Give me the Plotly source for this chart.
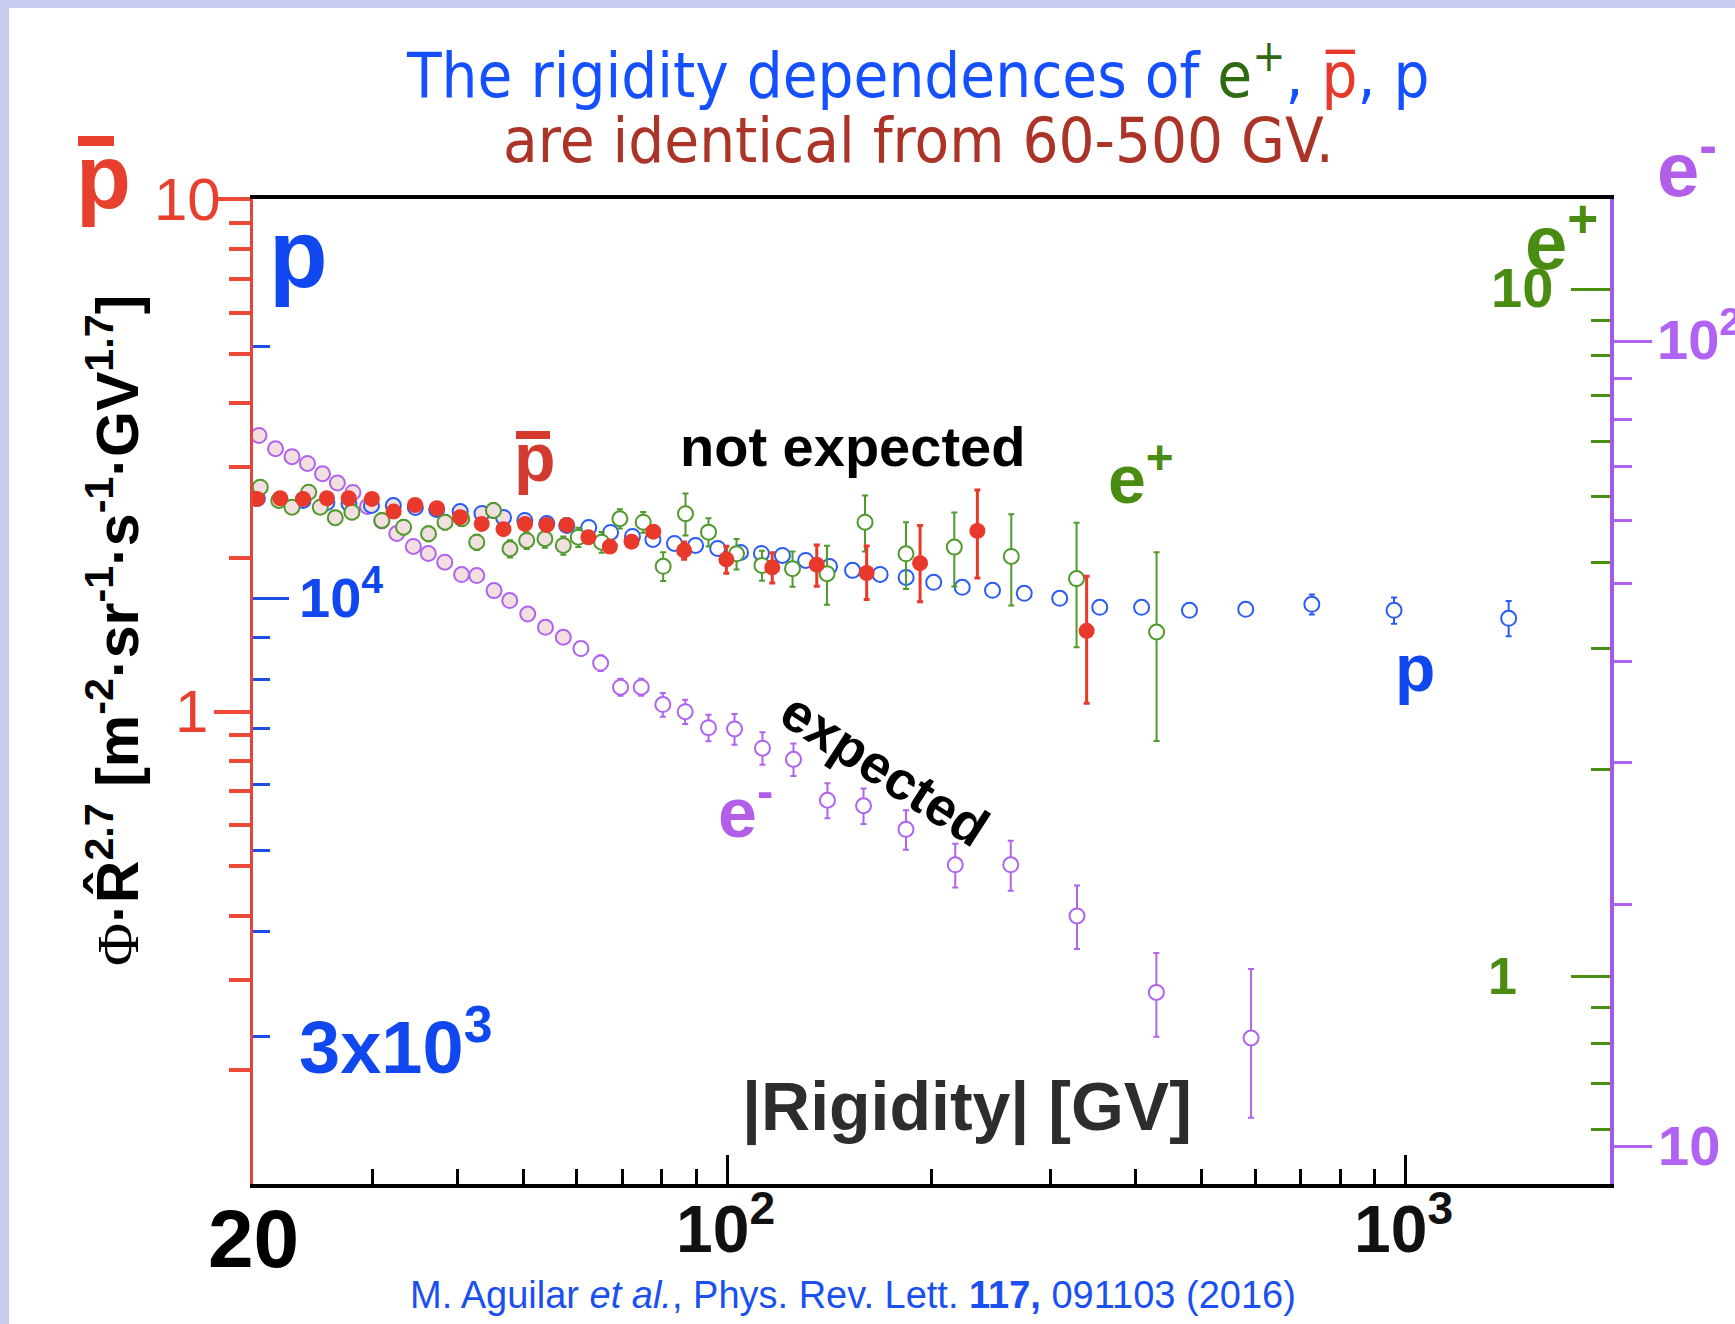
import numpy as np
import plotly.graph_objects as go

# ---------------- data ----------------
# anti-proton (red, filled) : |R| [GV], Phi*R^2.7, errors
pbar_R = [20.27, 21.94, 23.70, 25.70, 27.67, 29.94, 32.23, 34.67, 37.33, 40.38, 43.46, 46.80, 50.34, 54.18,
          57.98, 62.42, 67.14, 72.27, 77.80, 86.39, 99.7, 116.5, 135.5, 160.5, 192.4, 233.7, 338.6]
pbar_F = [2.603, 2.611, 2.603, 2.611, 2.611, 2.603, 2.459, 2.533, 2.496, 2.398, 2.326, 2.272, 2.326, 2.316,
          2.316, 2.191, 2.101, 2.148, 2.247, 2.065, 1.983, 1.913, 1.937, 1.866, 1.950, 2.254, 1.439]
pbar_Eup = [0.03, 0.03, 0.03, 0.03, 0.03, 0.03, 0.03, 0.03, 0.03, 0.03, 0.03, 0.03, 0.03, 0.03,
            0.03, 0.05, 0.05, 0.05, 0.05, 0.08, 0.12, 0.13, 0.18, 0.24, 0.36, 0.455, 0.40]
pbar_Edn = [0.03, 0.03, 0.03, 0.03, 0.03, 0.03, 0.03, 0.03, 0.03, 0.03, 0.03, 0.03, 0.03, 0.03,
            0.03, 0.05, 0.05, 0.05, 0.05, 0.08, 0.12, 0.13, 0.18, 0.21, 0.31, 0.43, 0.40]

# proton (blue, open)
p_R = [20.3, 21.9, 23.7, 25.7, 27.7, 29.9, 32.2, 34.7, 37.3, 40.4, 43.5, 46.8, 50.3, 54.2, 58.0, 62.5,
       67.3, 72.5, 77.7, 83.6, 89.8, 96.8, 104.6, 112.3, 120.6, 130.5, 141.5, 153, 168, 183.5, 201.5,
       222, 246, 274, 309, 354, 408, 480, 581, 727, 961, 1418]
p_F = [13177, 13141, 13105, 13032, 12997, 12926, 12926, 12856, 12785, 12715, 12646, 12507, 12405, 12303,
       12236, 12168, 12002, 11871, 11773, 11644, 11580, 11485, 11360, 11329, 11267, 11112, 10931, 10812,
       10693, 10605, 10461, 10318, 10233, 10149, 10011, 9765, 9765, 9687, 9713, 9847, 9687, 9476]
p_E = [30, 30, 30, 30, 30, 30, 30, 30, 30, 30, 30, 30, 30, 30, 30, 30, 30, 30, 30, 30, 30, 30, 30, 30,
       30, 30, 30, 30, 30, 30, 30, 40, 40, 40, 50, 60, 80, 110, 165, 270, 350, 460]

# positron (green, open)
ep_R = [20.50, 21.83, 22.83, 24.16, 25.13, 26.44, 27.98, 30.97, 33.34, 36.28, 38.38, 40.62, 42.74, 45.23,
        47.84, 50.63, 53.86, 57.33, 60.32, 65.29, 69.46, 75.19, 80.46, 86.79, 93.83, 103.2, 112.5, 124.8,
        140.3, 159.6, 183.4, 216.1, 262.2, 327.2, 429.3]
ep_F = [5.151, 4.926, 4.817, 5.065, 4.817, 4.650, 4.738, 4.608, 4.505, 4.407, 4.581, 4.634, 4.284, 4.764,
        4.191, 4.309, 4.334, 4.238, 4.357, 4.284, 4.634, 4.581, 3.951, 4.713, 4.431, 4.121, 3.964, 3.921,
        3.855, 4.581, 4.121, 4.214, 4.085, 3.792, 3.171]
ep_E = [0.11, 0.11, 0.11, 0.11, 0.11, 0.11, 0.11, 0.11, 0.11, 0.11, 0.11, 0.11, 0.11, 0.12,
        0.12, 0.12, 0.13, 0.13, 0.14, 0.15, 0.15, 0.16, 0.19, 0.33, 0.21, 0.21, 0.20, 0.23,
        0.38, 0.43, 0.46, 0.52, 0.62, 0.78, 0.97]

# electron (purple, open)
em_R = [20.41, 21.59, 22.83, 24.06, 25.32, 26.63, 28.07, 29.49, 30.97, 32.58, 34.46, 36.26, 38.34, 40.59,
        42.74, 45.32, 47.80, 50.81, 53.96, 57.32, 60.86, 65.07, 69.62, 74.68, 80.36, 86.70, 93.83, 102.5,
        112.7, 125.2, 140.5, 158.8, 183.4, 216.8, 261.7, 327.7, 429.0, 591.6]
em_F = [76.42, 73.57, 71.92, 70.55, 68.49, 66.71, 64.92, 62.37, 59.84, 57.73, 55.63, 54.52, 53.18, 51.34,
        51.19, 49.03, 47.65, 45.86, 44.15, 42.91, 41.54, 39.85, 37.20, 37.20, 35.39, 34.68, 33.13, 33.01,
        31.24, 30.26, 26.92, 26.50, 24.77, 22.38, 22.38, 19.34, 15.54, 13.64]
em_Eup = [0.8, 0.8, 0.8, 0.8, 0.8, 0.8, 0.8, 0.8, 0.8, 0.8, 0.8, 0.8, 0.8, 0.8, 0.8, 0.8, 0.8, 0.8, 0.8,
          0.8, 0.8, 0.9, 0.9, 0.9, 1.2, 1.2, 1.25, 1.45, 1.45, 1.4, 1.35, 1.35, 1.4, 1.4, 1.6, 1.75, 1.85, 2.97]
em_Edn = [0.8, 0.8, 0.8, 0.8, 0.8, 0.8, 0.8, 0.8, 0.8, 0.8, 0.8, 0.8, 0.8, 0.8, 0.8, 0.8, 0.8, 0.8, 0.8,
          0.8, 0.8, 0.9, 0.9, 0.9, 1.2, 1.2, 1.25, 1.45, 1.45, 1.4, 1.35, 1.35, 1.4, 1.4, 1.6, 1.75, 1.85, 2.78]

# axes: ranges and ticks
x_range = [20, 2000]
x_major = [100, 1000]
x_minor = [30, 40, 50, 60, 70, 80, 90, 200, 300, 400, 500, 600, 700, 800, 900]
x_labels = ['20', '10<sup>2</sup>', '10<sup>3</sup>']
x_label_vals = [20, 100, 1000]
shade_range = [20, 60]

pbar_range = [0.12, 10]
pbar_major = [1, 10]
pbar_minor = [0.2, 0.3, 0.4, 0.5, 0.6, 0.7, 0.8, 0.9, 2, 3, 4, 5, 6, 7, 8, 9]
pbar_labels = ['1', '10']

p_range = [2000, 30000]
p_major = [10000]
p_minor = [3000, 4000, 5000, 6000, 7000, 8000, 9000, 20000]
p_labels = ['3x10<sup>3</sup>', '10<sup>4</sup>']

ep_range = [0.5, 13.5]
ep_major = [1, 10]
ep_minor = [0.6, 0.7, 0.8, 0.9, 2, 3, 4, 5, 6, 7, 8, 9]
ep_labels = ['1', '10']

em_range = [9, 150]
em_major = [10, 100]
em_minor = [20, 30, 40, 50, 60, 70, 80, 90]
em_labels = ['10', '10<sup>2</sup>']

# ---------------- layout helpers ----------------
W, H = 1735, 1324
ML, MR, MT, MB = 253, 125, 199, 140
PW, PH = W - ML - MR, H - MT - MB


def px(x):
    return (x - ML) / PW


def py(y):
    return (H - MB - y) / PH


lg = np.log10
BLUE = '#2a5cf4'
BLUE_T = '#1147ee'
RED = '#e8392b'
RED_T = '#e8402f'
GREEN = '#4f9a2b'
GREEN_T = '#4a8c12'
PURPLE = '#b063ee'
PURPLE_T = '#b35ee8'
LAVENDER = '#c7ccee'
SHADE = '#f2dfe0'
SANS = 'Liberation Sans, Arial, sans-serif'
TFONT = 'DejaVu Sans Condensed, DejaVu Sans, sans-serif'


def fills(rs):
    # open markers show the background behind them (shaded band or white)
    return [SHADE if r < shade_range[1] else 'white' for r in rs]


fig = go.Figure()

fig.add_trace(go.Scatter(
    x=em_R, y=em_F, mode='markers', yaxis='y',
    marker=dict(symbol='circle', size=15, color=fills(em_R), line=dict(width=2, color=PURPLE)),
    error_y=dict(type='data', array=em_Eup, arrayminus=em_Edn, color=PURPLE, thickness=2, width=3)))
fig.add_trace(go.Scatter(
    x=p_R, y=p_F, mode='markers', yaxis='y2',
    marker=dict(symbol='circle', size=15, color=fills(p_R), line=dict(width=2, color=BLUE)),
    error_y=dict(type='data', array=p_E, color=BLUE, thickness=2, width=3)))
fig.add_trace(go.Scatter(
    x=ep_R, y=ep_F, mode='markers', yaxis='y3',
    marker=dict(symbol='circle', size=15, color=fills(ep_R), line=dict(width=2, color=GREEN)),
    error_y=dict(type='data', array=ep_E, color=GREEN, thickness=2, width=3)))
fig.add_trace(go.Scatter(
    x=pbar_R, y=pbar_F, mode='markers', yaxis='y4',
    marker=dict(symbol='circle', size=16, color=RED),
    error_y=dict(type='data', array=pbar_Eup, arrayminus=pbar_Edn, color=RED, thickness=3, width=3)))


def lrange(r, top_pad=0.0008):
    return [lg(r[0]) - 0.0008, lg(r[1]) + top_pad]


fig.update_layout(
    width=W, height=H,
    margin=dict(l=ML, r=MR, t=MT, b=MB, pad=0),
    paper_bgcolor=LAVENDER, plot_bgcolor='rgba(0,0,0,0)',
    showlegend=False,
    xaxis=dict(type='log', range=[lg(x_range[0]), lg(x_range[1])], showline=True, linecolor='black',
               linewidth=4, mirror=True, ticks='inside', tickvals=x_major, ticklen=29, tickwidth=2.5,
               tickcolor='black', showticklabels=False, showgrid=False, zeroline=False,
               minor=dict(tickvals=x_minor, ticks='inside', ticklen=15, tickwidth=2.5,
                          tickcolor='black', showgrid=False)),
    yaxis=dict(type='log', range=lrange(em_range), side='right', anchor='x', showline=True,
               linecolor='#a45ae6', linewidth=4, ticks='outside', tickvals=em_major, ticklen=38,
               tickwidth=3, tickcolor='#b360f5', showticklabels=False, showgrid=False, zeroline=False,
               minor=dict(tickvals=em_minor, ticks='outside', ticklen=18, tickwidth=3,
                          tickcolor='#b360f5', showgrid=False)),
    yaxis2=dict(type='log', range=lrange(p_range), overlaying='y', side='left', anchor='x',
                showline=False, ticks='inside', tickvals=p_major, ticklen=36, tickwidth=3,
                tickcolor='#1a4fe6', showticklabels=False, showgrid=False, zeroline=False,
                minor=dict(tickvals=p_minor, ticks='inside', ticklen=17, tickwidth=3,
                           tickcolor='#1a4fe6', showgrid=False)),
    yaxis3=dict(type='log', range=lrange(ep_range), overlaying='y', side='right', anchor='x',
                showline=False, ticks='inside', tickvals=ep_major, ticklen=39, tickwidth=3,
                tickcolor='#4b8f12', showticklabels=False, showgrid=False, zeroline=False,
                minor=dict(tickvals=ep_minor, ticks='inside', ticklen=19, tickwidth=3,
                           tickcolor='#4b8f12', showgrid=False)),
    yaxis4=dict(type='log', range=lrange(pbar_range), overlaying='y', side='left', anchor='x',
                showline=True, linecolor='#e2463a', linewidth=3, ticks='outside', tickvals=pbar_major,
                ticklen=36, tickwidth=3.5, tickcolor='#ec4a36', showticklabels=False,
                showgrid=False, zeroline=False,
                minor=dict(tickvals=pbar_minor, ticks='outside', ticklen=21, tickwidth=3.5,
                           tickcolor='#ec4a36', showgrid=False)),
)

shapes = [
    dict(type='rect', xref='paper', yref='paper', x0=px(9), x1=px(1745), y0=py(1335), y1=py(8),
         fillcolor='white', line=dict(width=0), layer='below'),
    dict(type='rect', xref='x', yref='paper', x0=lg(shade_range[0]), x1=lg(shade_range[1]),
         y0=py(1193), y1=py(206), fillcolor=SHADE, line=dict(width=0), layer='below'),
    dict(type='rect', xref='paper', yref='paper', x0=px(78), x1=px(114), y0=py(146), y1=py(136),
         fillcolor=RED_T, line=dict(width=0), layer='above'),
    dict(type='rect', xref='paper', yref='paper', x0=px(516), x1=px(550), y0=py(439), y1=py(431),
         fillcolor='#d63a2f', line=dict(width=0), layer='above'),
]
fig.update_layout(shapes=shapes)


def ann(text, x, y, size, color, xanchor='center', yanchor='middle', bold=True, family=SANS,
        xref='paper', yref='paper', angle=0, xshift=0):
    return dict(text=text, x=x, y=y, xref=xref, yref=yref, xanchor=xanchor, yanchor=yanchor,
                showarrow=False, textangle=angle, xshift=xshift,
                font=dict(family=family, size=size, color=color, weight='bold' if bold else 'normal'))


title1 = ('The rigidity dependences of <span style="color:#2f6a12">e<sup>+</sup></span>, '
          '<span style="color:#e8392b">p\u0305</span>, p')
annotations = [
    ann(title1, px(917), py(71), 63, '#1450ff', bold=False, family=TFONT),
    ann('are identical from 60-500 GV.', px(918), py(140), 63, '#ab3327', bold=False, family=TFONT),
    ann('p', px(103.5), py(177), 90, RED_T),
    ann('p', px(298), py(254), 96, BLUE_T),
    # red (anti-proton) axis labels
    ann(pbar_labels[1], px(223), lg(pbar_major[1]), 60, RED_T, xanchor='right', bold=False, yref='y4'),
    ann(pbar_labels[0], px(191), lg(pbar_major[0]), 60, RED_T, bold=False, yref='y4'),
    # blue (proton) axis labels
    ann(p_labels[1], px(297), py(631), 56, BLUE_T, xanchor='left', yanchor='bottom'),
    ann(p_labels[0], px(297), py(1091), 74, BLUE_T, xanchor='left', yanchor='bottom'),
    ann('p', px(534.7), py(457), 68, '#d33b30'),
    ann('not expected', px(852), py(446), 56, 'black'),
    ann('e<sup>+</sup>', px(1106), py(519), 68, GREEN_T, xanchor='left', yanchor='bottom'),
    ann('p', px(1415), py(668), 66, BLUE_T),
    ann('expected', px(885), py(769), 54, 'black', angle=33),
    ann('e<sup>-</sup>', px(716), py(854), 70, PURPLE_T, xanchor='left', yanchor='bottom'),
    ann('e<sup>-</sup>', px(1655), py(214), 76, PURPLE_T, xanchor='left', yanchor='bottom'),
    ann('e<sup>+</sup>', px(1523), py(287), 76, GREEN_T, xanchor='left', yanchor='bottom'),
    # green (positron) axis labels
    ann(ep_labels[1], px(1521.7), py(287.4), 56, GREEN_T),
    ann(ep_labels[0], px(1502.5), py(975.6), 52, GREEN_T),
    # purple (electron) axis labels
    ann(em_labels[1], px(1655), py(373), 56, '#b062f2', xanchor='left', yanchor='bottom'),
    ann(em_labels[0], px(1656), py(1145.7), 56, '#b062f2', xanchor='left'),
    # x axis labels
    ann(x_labels[0], lg(x_label_vals[0]), py(1238), 82, 'black', xref='x'),
    ann(x_labels[1], lg(x_label_vals[1]), py(1268), 66, '#111111', yanchor='bottom',
        xref='x', xshift=-2),
    ann(x_labels[2], lg(x_label_vals[2]), py(1268), 66, '#111111', yanchor='bottom',
        xref='x', xshift=-2),
    ann('|Rigidity| [GV]', px(967), py(1107), 68, '#2d2d2d'),
    ann('<span style="font-family:Liberation Serif;font-weight:normal">\u03a6</span>\u00b7R\u0302'
        '<sup>2.7</sup> [m<sup>-2</sup>\u00b7sr<sup>-1</sup>\u00b7s<sup>-1</sup>\u00b7GV<sup>1.7</sup>]',
        px(113), py(631), 59, 'black', angle=-90),
    ann('M. Aguilar <i>et al.</i>, Phys. Rev. Lett. <b>117,</b> 091103 (2016)', px(853), py(1295), 38,
        '#1a4ff0', bold=False),
]
fig.update_layout(annotations=annotations)

page_fix = ("document.documentElement.style.background='white';"
            "document.body.style.margin='0px';document.body.style.background='white';")
fig.write_html('out.html', post_script=page_fix, config={'displayModeBar': False})
